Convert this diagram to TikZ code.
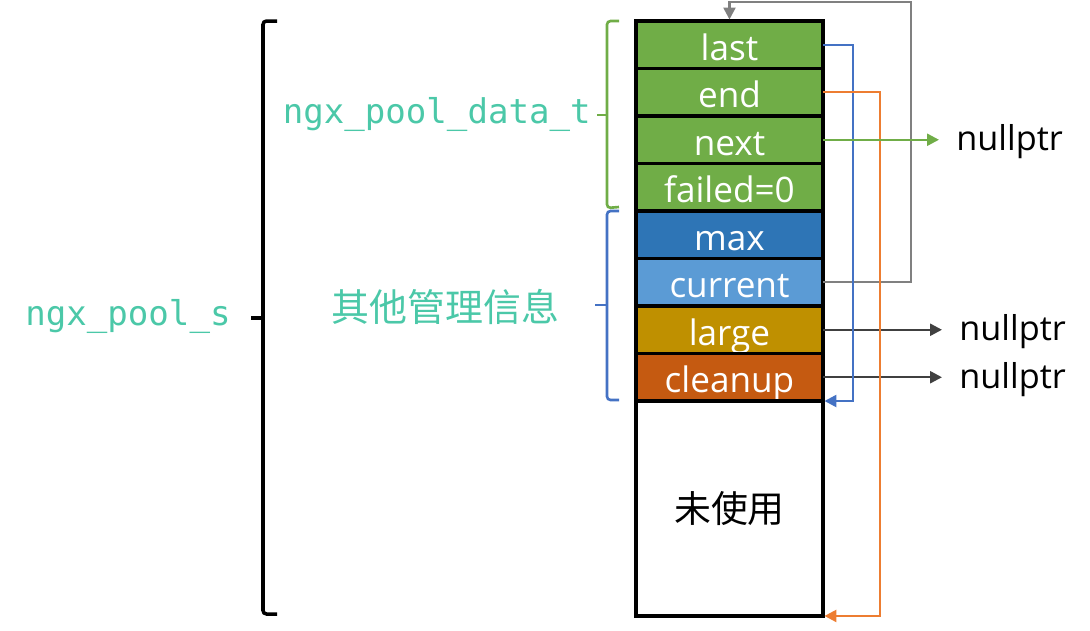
\documentclass[tikz,border=0pt]{standalone}
\usepackage{fontspec}
\setmainfont{Open Sans}
\newfontfamily\cjk{Noto Sans CJK SC}
\newfontfamily\monof{DejaVu Sans Mono}
\usetikzlibrary{arrows.meta}
\definecolor{cgreen}{HTML}{70AD47}
\definecolor{cmax}{HTML}{2E75B6}
\definecolor{ccur}{HTML}{5B9BD5}
\definecolor{clarge}{HTML}{BF9000}
\definecolor{cclean}{HTML}{C55A11}
\definecolor{cteal}{HTML}{4BC8A8}
\definecolor{cblue}{HTML}{4472C4}
\definecolor{corange}{HTML}{ED7D31}
\definecolor{cgrey}{HTML}{808080}
\definecolor{cdark}{HTML}{404040}
\begin{document}
\begin{tikzpicture}[x=0.02cm,y=-0.02cm,
  cell/.style={draw=black, line width=2.1pt, outer sep=0pt, minimum width=3.74cm, minimum height=0.95cm,
    text height=20pt, text depth=2.6pt,
    anchor=north west, inner sep=0pt, text=white, font=\fontsize{20}{20}\selectfont},
  nullp/.style={anchor=west, inner sep=0pt, text=black, font=\fontsize{19.5}{19.5}\selectfont},
  link/.style={line width=1.4pt, -{Triangle[length=0.24cm,width=0.24cm]}},
  brk/.style={line width=1.5pt, rounded corners=2pt}
]
\useasboundingbox (0,0) rectangle (1090,630);
% column
\node[cell, fill=cgreen] (last) at (636,21) {last};
\node[cell, fill=cgreen] (end) at (636,68.5) {end};
\node[cell, fill=cgreen] (next) at (636,116) {next};
\node[cell, fill=cgreen] (failed) at (636,163.5) {failed=0};
\node[cell, fill=cmax] (max) at (636,211) {max};
\node[cell, fill=ccur] (current) at (636,258.5) {current};
\node[cell, fill=clarge] (large) at (636,306) {large};
\node[cell, fill=cclean] (cleanup) at (636,353.5) {cleanup};
\node[cell, fill=white, minimum height=4.3cm, text height=, text depth=, text=black, font=\cjk\fontsize{21}{21}\selectfont] (unused) at (636,401) {未使用};
% nullptr labels
\node[nullp] (n1) at (956,142) {nullptr};
\node[nullp] (n2) at (959,332) {nullptr};
\node[nullp] (n3) at (959,380) {nullptr};
% left labels
\node[text=cteal, font=\monof\fontsize{19.4}{19.4}\selectfont, anchor=east, inner sep=0pt] (pdt) at (591,114) {ngx\_pool\_data\_t};
\node[text=cteal, font=\monof\fontsize{19.4}{19.4}\selectfont, anchor=west, inner sep=0pt] (ps) at (25,316) {ngx\_pool\_s};
\node[text=cteal, font=\cjk\fontsize{21.6}{21.6}\selectfont, anchor=west, inner sep=0pt] (other) at (331,307) {其他管理信息};
% brackets
\coordinate (gb1) at (619,21);
\coordinate (gb2) at (619,207);
\coordinate (gbt) at (597,115);
\draw[brk, draw=cgreen] (gb1) -- (607,21) -- (607,208) -- (gb2);
\draw[line width=1.5pt, draw=cgreen] (607,115) -- (gbt);
\coordinate (bb1) at (619,211);
\coordinate (bb2) at (619,400);
\coordinate (bbt) at (595,305);
\draw[brk, draw=cblue] (bb1) -- (607,211) -- (607,400) -- (bb2);
\draw[line width=1.5pt, draw=cblue] (607,305) -- (bbt);
\coordinate (kb1) at (277,21);
\coordinate (kb2) at (277,614);
\coordinate (kbt) at (251,318);
\draw[line width=2pt, rounded corners=2pt] (kb1) -- (263,21) -- (263,614) -- (kb2);
\draw[line width=2pt] (263,318) -- (kbt);
% connectors
\coordinate (gtop) at (911,2);
\draw[link, color=cgrey] (current.east) -| (gtop) -| ([yshift=0.03cm]last.north);
\draw[link, color=cdark, shorten >=0.34cm] (large.east) -- (large.east -| n2.west);
\draw[link, color=cdark, shorten >=0.34cm] (cleanup.east) -- (cleanup.east -| n3.west);
\draw[link, color=cblue] (last.east) -- ++(30,0) |- ([xshift=0.03cm]unused.north east);
\draw[link, color=corange] (end.east) -- ++(57,0) |- ([xshift=0.03cm]unused.south east);
\draw[link, color=cgreen, shorten >=0.34cm] (next.east) -- (next.east -| n1.west);
\end{tikzpicture}
\end{document}
